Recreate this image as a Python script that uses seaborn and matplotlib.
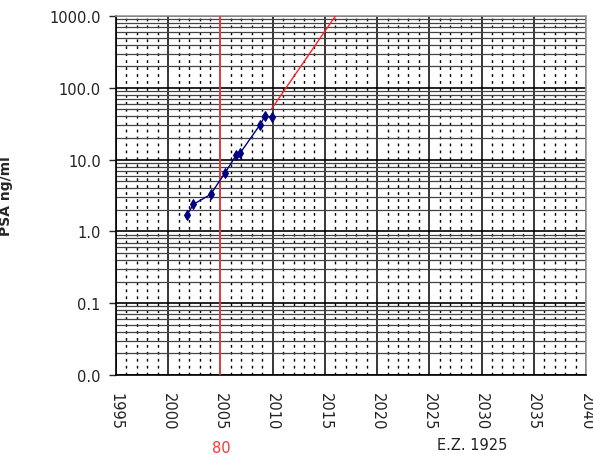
import matplotlib
matplotlib.use("Agg")
import matplotlib.pyplot as plt
import matplotlib.ticker as mticker
import seaborn as sns
import numpy as np
import pandas as pd

# Data
years = [2001.8, 2002.4, 2004.05, 2005.45, 2006.5, 2006.9, 2008.8, 2009.25, 2009.9]
psa = [1.69, 2.38, 3.27, 6.57, 11.5, 12.4, 30.7, 40.0, 39.0]
trend_years = [2009.9, 2016.2]
trend_psa = [51.0, 1100.0]
marker_year = 2005.0
x_ticks = list(range(1995, 2041, 5))
y_ticks = [0.01, 0.1, 1, 10, 100, 1000]
y_tick_labels = ["0.0", "0.1", "1.0", "10.0", "100.0", "1000.0"]
y_label = "PSA ng/ml"
note_left = "80"
note_right = "E.Z. 1925"

sns.set_style("white")
plt.rcParams['font.family'] = ['DejaVu Sans']

fig = plt.figure(figsize=(5.93, 4.56), dpi=100)
ax = fig.add_axes([116/593, 1 - 376/456, (586-116)/593, (376-17)/456])

ax.set_yscale("log")
ax.set_xlim(1995, 2040)
ax.set_ylim(0.01, 1000)

# grid
ax.set_xticks(x_ticks)
ax.set_xticks(np.arange(1995, 2041, 1), minor=True)
ax.set_yticks(y_ticks)
ax.set_yticklabels(y_tick_labels)
ax.yaxis.set_minor_locator(mticker.LogLocator(base=10, subs=np.arange(2, 10)))
ax.yaxis.set_minor_formatter(mticker.NullFormatter())

ax.grid(True, which="major", axis="x", color="black", lw=1.1, ls="-")
ax.grid(True, which="minor", axis="x", color="black", lw=1.0, ls=(0, (2, 3)))
ax.grid(True, which="major", axis="y", color="black", lw=1.2, ls="-")
ax.grid(True, which="minor", axis="y", color="#444444", lw=0.9, ls="-")
ax.set_axisbelow(True)

# red vertical line
ax.axvline(marker_year, color="#ff4040", lw=1.2, zorder=3)

df = pd.DataFrame({"year": years, "psa": psa})
sns.lineplot(data=df, x="year", y="psa", ax=ax, color="#000080", lw=1.0,
             marker="d", markersize=5, markeredgecolor="#000080", zorder=5)
tdf = pd.DataFrame({"year": trend_years, "psa": trend_psa})
sns.lineplot(data=tdf, x="year", y="psa", ax=ax, color="#ff2222", lw=1.0, zorder=4)

ax.set_xlabel("")
ax.set_ylabel(y_label, fontsize=10, fontweight="bold", labelpad=26)

for side in ["left", "bottom"]:
    ax.spines[side].set_color("black")
    ax.spines[side].set_linewidth(1.2)
for side in ["top", "right"]:
    ax.spines[side].set_color("#999999")
    ax.spines[side].set_linewidth(1.2)

ax.tick_params(axis="y", which="major", left=True, length=5, width=1, labelsize=10.5, pad=6)
ax.tick_params(axis="y", which="minor", left=False)
ax.tick_params(axis="x", which="both", bottom=False, labelsize=10.5, pad=9)
for lbl in ax.get_xticklabels():
    lbl.set_rotation(-90)
    lbl.set_va("top")
    lbl.set_ha("center")
    lbl.set_color("#222222")
for lbl in ax.get_yticklabels():
    lbl.set_color("#222222")

fig.text(221/593, 1 - 449/456, note_left, color="#ff3333", fontsize=10.5, ha="center", va="center")
fig.text(472/593, 1 - 446/456, note_right, color="#222222", fontsize=10.5, ha="center", va="center")

fig.savefig("out.png", dpi=100)
